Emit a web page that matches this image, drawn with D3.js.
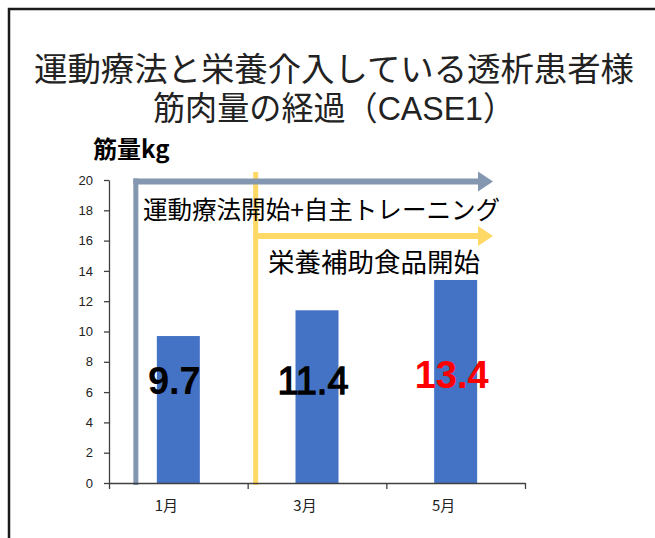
<!DOCTYPE html>
<html>
<head>
<meta charset="utf-8">
<script src="https://cdn.jsdelivr.net/npm/d3@7"></script>
<style>
  html, body { margin: 0; padding: 0; background: #fff; }
  svg { display: block; }
</style>
</head>
<body>
<div id="chart"></div>
<script>
// ---- data ----
const months = ["1月", "3月", "5月"];
const muscle = [9.7, 11.4, 13.4];
const valueLabels = ["9.7", "11.4", "13.4"];
const valueColors = ["#000000", "#000000", "#FF0000"];
const valueWeights = ["bold", "normal", "bold"];
const yTicks = [0, 2, 4, 6, 8, 10, 12, 14, 16, 18, 20];
const titleLines = ["運動療法と栄養介入している透析患者様", "筋肉量の経過（CASE1）"];
const yTitle = "筋量kg";
const annotations = ["運動療法開始+自主トレーニング", "栄養補助食品開始"];

const W = 655, H = 538;
const svg = d3.select("#chart").append("svg").attr("width", W).attr("height", H);

// frame
svg.append("path")
  .attr("d", `M9,${H + 5} L9,9 L${W + 5},9`)
  .attr("fill", "none").attr("stroke", "#1a1a1a").attr("stroke-width", 2.5);

// title
const titleFont = "'Liberation Sans', 'Noto Sans CJK JP', sans-serif";
svg.append("text").attr("x", 334).attr("y", 81)
  .attr("text-anchor", "middle").attr("font-family", titleFont)
  .attr("font-size", 33).attr("fill", "#222")
  .attr("textLength", 600).attr("lengthAdjust", "spacingAndGlyphs")
  .text(titleLines[0]);
svg.append("text").attr("x", 334).attr("y", 120)
  .attr("text-anchor", "middle").attr("font-family", titleFont)
  .attr("font-size", 33).attr("fill", "#222")
  .attr("textLength", 362).attr("lengthAdjust", "spacingAndGlyphs")
  .text(titleLines[1]);

// scales
const x0 = 109, x1 = 525, yBase = 483, yTop = 180;
const x = d3.scaleBand().domain(months).range([x0, x1]).paddingInner(0.69).paddingOuter(0.345);
const xEdge = d3.scaleLinear().domain([0, months.length]).range([x0, x1]);
const y = d3.scaleLinear().domain([0, 20]).range([yBase, yTop]);

// y title
svg.append("text").attr("x", 93).attr("y", 158)
  .attr("font-family", "'Noto Sans CJK JP', 'Liberation Sans', sans-serif")
  .attr("font-size", 24).attr("font-weight", "bold").attr("fill", "#000")
  .text(yTitle);

// bars
svg.append("g").selectAll("rect").data(muscle).join("rect")
  .attr("x", (d, i) => x(months[i]))
  .attr("y", d => y(d))
  .attr("width", x.bandwidth())
  .attr("height", d => yBase - y(d))
  .attr("fill", "#4472C4");

// y axis
const yAxis = svg.append("g").attr("transform", `translate(${x0},0)`)
  .call(d3.axisLeft(y).tickValues(yTicks).tickSize(5).tickSizeOuter(0).tickPadding(11));
yAxis.selectAll("text").attr("font-family", "'Liberation Sans', Arial, sans-serif")
  .attr("font-size", 13).attr("fill", "#222");
yAxis.selectAll("line,path").attr("stroke", "#404040").attr("stroke-width", 1.3);

// annotation arrows (gray: exercise, yellow: nutrition)
const gray = "#8497B0", yellow = "#FFD966";
const grayX = x(months[0]) - 21, yellowX = xEdge(1) + 8;
const arrowEnd = 493;
function arrow(xv, yv, color, topY) {
  const g = svg.append("g");
  g.append("line").attr("x1", xv).attr("x2", xv).attr("y1", yBase + 2).attr("y2", topY)
    .attr("stroke", color).attr("stroke-width", 5);
  g.append("line").attr("x1", xv - 2.5).attr("x2", arrowEnd - 14).attr("y1", yv).attr("y2", yv)
    .attr("stroke", color).attr("stroke-width", 6);
  g.append("path")
    .attr("d", `M${arrowEnd - 15},${yv - 10} L${arrowEnd},${yv} L${arrowEnd - 15},${yv + 10} Z`)
    .attr("fill", color);
}
arrow(yellowX, y(16.3), yellow, 172);
arrow(grayX, y(19.9), gray, y(19.9) - 3);

// annotation texts
const annFont = "'Noto Sans CJK JP', sans-serif";
svg.append("text").attr("x", 143).attr("y", 219)
  .attr("font-family", annFont).attr("font-size", 25).attr("fill", "#000")
  .attr("textLength", 357).attr("lengthAdjust", "spacingAndGlyphs")
  .text(annotations[0]);
svg.append("text").attr("x", 268).attr("y", 272)
  .attr("font-family", annFont).attr("font-size", 26).attr("fill", "#000")
  .attr("textLength", 212).attr("lengthAdjust", "spacingAndGlyphs")
  .text(annotations[1]);

// x axis
const xAxis = svg.append("g").attr("transform", `translate(0,${yBase})`)
  .call(d3.axisBottom(xEdge).tickValues(d3.range(months.length + 1)).tickSize(6).tickSizeOuter(0).tickFormat(""));
xAxis.selectAll("line,path").attr("stroke", "#404040").attr("stroke-width", 1.3);
svg.append("g").selectAll("text").data(months).join("text")
  .attr("x", d => x(d) + x.bandwidth() / 2 - 12)
  .attr("y", 511)
  .attr("text-anchor", "middle")
  .attr("font-family", "'Noto Sans CJK JP', sans-serif")
  .attr("font-size", 15).attr("fill", "#222")
  .text(d => d);

// value labels
svg.append("g").selectAll("text").data(muscle).join("text")
  .attr("x", (d, i) => x(months[i]) + x.bandwidth() / 2 - 4)
  .attr("y", (d, i) => y(i === 2 ? 6.3 : 5.85))
  .attr("text-anchor", "middle")
  .attr("font-family", "'Liberation Sans', Arial, sans-serif")
  .attr("font-size", 38)
  .attr("font-weight", (d, i) => valueWeights[i])
  .attr("stroke", (d, i) => valueWeights[i] === "normal" ? valueColors[i] : "none")
  .attr("stroke-width", 1.3)
  .attr("fill", (d, i) => valueColors[i])
  .text((d, i) => valueLabels[i]);
</script>
</body>
</html>
